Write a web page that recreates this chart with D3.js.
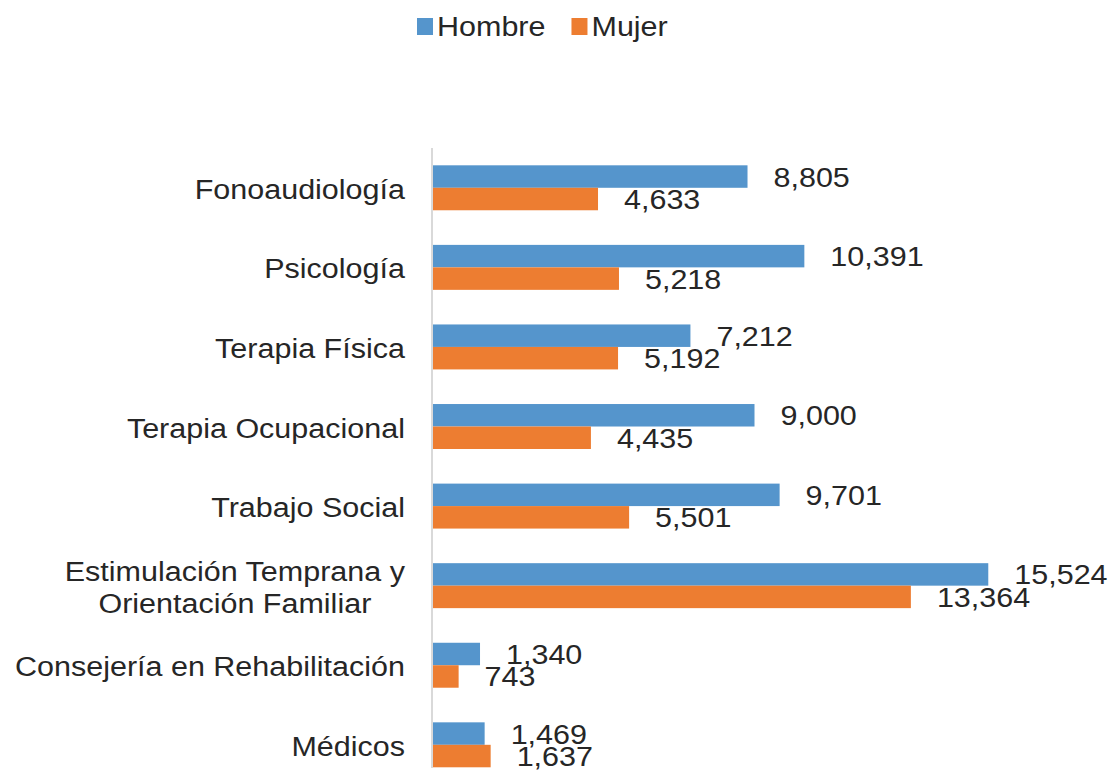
<!DOCTYPE html>
<html>
<head>
<meta charset="utf-8">
<script src="https://cdn.jsdelivr.net/npm/d3@7"></script>
<style>
    body { margin: 0; background: #fff; }
    svg { display: block; font-family: "Liberation Sans", Arial, sans-serif; }
</style>
</head>
<body>
<svg id="chart" width="1114" height="777"></svg>
<script>
var categories = [
    ['Fonoaudiología'],
    ['Psicología'],
    ['Terapia Física'],
    ['Terapia Ocupacional'],
    ['Trabajo Social'],
    ['Estimulación Temprana y', 'Orientación Familiar'],
    ['Consejería en Rehabilitación'],
    ['Médicos']
];
var seriesNames = ['Hombre', 'Mujer'];
var hombre = [8805, 10391, 7212, 9000, 9701, 15524, 1340, 1469];
var mujer = [4633, 5218, 5192, 4435, 5501, 13364, 743, 1637];
var colors = ['#5595cc', '#ed7d31'];

var fontSize = 27;
var stretch = 1.13;   // picture is a bit wider than tall
var textColor = '#262626';

var svg = d3.select('svg#chart');

var x = d3.scaleLinear().domain([0, 18000]).range([432, 1077]);
var y = d3.scaleBand()
    .domain(d3.range(categories.length))
    .range([148, 784.6])
    .paddingInner(0.435)
    .paddingOuter(0.2175);
var ySub = d3.scaleBand()
    .domain(seriesNames)
    .range([0, y.bandwidth()]);

var rows = categories.map(function(c, i) {
    return {index: i, label: c, values: [hombre[i], mujer[i]]};
});

// axis line
svg.append('line')
    .attr('x1', x(0)).attr('x2', x(0))
    .attr('y1', 148).attr('y2', 768)
    .attr('stroke', '#d9d9d9')
    .attr('stroke-width', 2);

var group = svg.selectAll('g.row')
    .data(rows)
    .enter()
    .append('g')
    .attr('class', 'row')
    .attr('transform', function(d) { return 'translate(0,' + y(d.index) + ')'; });

group.selectAll('rect')
    .data(function(d) {
        return d.values.map(function(v, j) { return {name: seriesNames[j], value: v, j: j}; });
    })
    .enter()
    .append('rect')
    .attr('x', x(0) + 1)
    .attr('y', function(d) { return ySub(d.name); })
    .attr('width', function(d) { return x(d.value) - x(0) - 1; })
    .attr('height', ySub.bandwidth())
    .attr('fill', function(d) { return colors[d.j]; });

var fmt = d3.format(',');

group.selectAll('text.value')
    .data(function(d) {
        return d.values.map(function(v, j) { return {name: seriesNames[j], value: v}; });
    })
    .enter()
    .append('text')
    .attr('class', 'value')
    .attr('transform', function(d) {
        return 'translate(' + (x(d.value) + 26) + ',' + (ySub(d.name) + ySub.bandwidth() / 2 + 10) + ') scale(' + stretch + ',1)';
    })
    .attr('font-size', fontSize)
    .attr('fill', textColor)
    .text(function(d) { return fmt(d.value); });

// category labels, multi-line ones centred among themselves
group.each(function(d) {
    var g = d3.select(this);
    var lineH = 32;
    var cy = y.bandwidth() / 2 + 2;
    var t = g.append('text')
        .attr('font-size', fontSize)
        .attr('fill', textColor)
        .attr('text-anchor', 'middle');
    d.label.forEach(function(line, k) {
        t.append('tspan')
            .attr('x', 0)
            .attr('y', cy + (k - (d.label.length - 1) / 2) * lineH + 9)
            .text(line);
    });
    var w = 0;
    t.selectAll('tspan').each(function() { w = Math.max(w, this.getComputedTextLength()); });
    t.attr('transform', 'translate(' + (405 - w * stretch / 2) + ',0) scale(' + stretch + ',1)');
});

// legend
var legend = svg.append('g');
var lx = 417;
seriesNames.forEach(function(name, j) {
    legend.append('rect')
        .attr('x', lx).attr('y', 18)
        .attr('width', 16).attr('height', 17)
        .attr('fill', colors[j]);
    var t = legend.append('text')
        .attr('transform', 'translate(' + (lx + 20) + ',36) scale(' + stretch + ',1)')
        .attr('font-size', fontSize)
        .attr('fill', textColor)
        .text(name);
    lx += 20 + t.node().getComputedTextLength() * stretch + 26;
});
</script>
</body>
</html>
